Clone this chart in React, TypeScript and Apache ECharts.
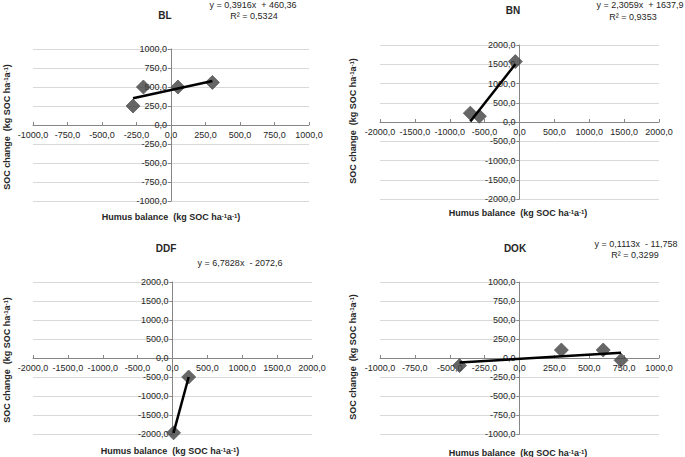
import React, { useEffect, useRef } from "react";
import * as echarts from "echarts";

// ---- Data ----
const blX = [-275, -200, 50, 300];
const blY = [250, 500, 500, 560];
const blTrendX = [-275, 300];
const blTrendY = [352.7, 577.8];

const bnX = [-705, -575, -60];
const bnY = [230, 150, 1570];
const bnTrendX = [-705, -60];
const bnTrendY = [12.2, 1499.5];

const ddfX = [15, 232];
const ddfY = [-1970, -500];
const ddfTrendX = [15, 232];
const ddfTrendY = [-1970.9, -499];

const dokX = [-430, 300, 600, 728];
const dokY = [-100, 105, 105, -30];
const dokTrendX = [-430, 728];
const dokTrendY = [-59.6, 69.3];

const panelTitles = ["BL", "BN", "DDF", "DOK"];
const equations = [
  ["y = 0,3916x  + 460,36", "R² = 0,5324"],
  ["y = 2,3059x  + 1637,9", "R² = 0,9353"],
  ["y = 6,7828x  - 2072,6"],
  ["y = 0,1113x  - 11,758", "R² = 0,3299"],
];
const axisRanges = [1000, 2000, 2000, 1000];
const axisSteps = [250, 500, 500, 250];

const FONT = "'Liberation Sans', Arial, sans-serif";
const TXT = "#262626";

const fmt = (v: number) => v.toFixed(1).replace(".", ",");
const pairs = (xs: number[], ys: number[]) => xs.map((x, i) => [x, ys[i]]);

const grids = [
  { left: 33, width: 276, top: 49, height: 152 },
  { left: 380, width: 279, top: 45, height: 154 },
  { left: 33, width: 279, top: 282, height: 152 },
  { left: 380, width: 279, top: 282, height: 152 },
];

const richTitle = {
  b: { fontSize: 9, fontWeight: "bold", fontFamily: FONT, fill: TXT, color: TXT },
  s: { fontSize: 6, fontWeight: "bold", fontFamily: FONT, fill: TXT, color: TXT, verticalAlign: "top" },
};

function textEl(text: string, x: number, y: number, opts: any = {}) {
  return {
    type: "text",
    x,
    y,
    rotation: opts.rotation || 0,
    style: {
      text,
      fill: TXT,
      font: opts.font || `9px ${FONT}`,
      align: "center",
      verticalAlign: "middle",
      rich: opts.rich,
    },
  };
}

export default function App() {
  const ref = useRef<HTMLDivElement>(null);
  useEffect(() => {
    if (!ref.current) return;
    const chart = echarts.init(ref.current, undefined, { renderer: "svg" });

    const scatterData = [pairs(blX, blY), pairs(bnX, bnY), pairs(ddfX, ddfY), pairs(dokX, dokY)];
    const trendData = [
      pairs(blTrendX, blTrendY),
      pairs(bnTrendX, bnTrendY),
      pairs(ddfTrendX, ddfTrendY),
      pairs(dokTrendX, dokTrendY),
    ];

    // Symmetric ranges: zero sits at the centre of each plot, so the axis lines
    // are shifted inward by half the plot size to cross at the origin.
    const xAxis = grids.map((g, i) => ({
      type: "value",
      gridIndex: i,
      position: "bottom",
      offset: -g.height / 2,
      min: -axisRanges[i],
      max: axisRanges[i],
      interval: axisSteps[i],
      axisLine: { show: true, onZero: false, lineStyle: { color: "#868686", width: 1 } },
      axisTick: { show: true, inside: true, length: 3, lineStyle: { color: "#868686" } },
      splitLine: { show: false },
      axisLabel: { formatter: fmt, fontSize: 9, fontFamily: FONT, color: TXT, margin: 5 },
      z: 5,
    }));
    const yAxis = grids.map((g, i) => ({
      type: "value",
      gridIndex: i,
      position: "left",
      offset: -g.width / 2,
      min: -axisRanges[i],
      max: axisRanges[i],
      interval: axisSteps[i],
      axisLine: { show: true, onZero: false, lineStyle: { color: "#868686", width: 1 } },
      axisTick: { show: true, inside: false, length: 3, lineStyle: { color: "#868686" } },
      splitLine: { show: true, lineStyle: { color: "#d9d9d9", width: 1 } },
      axisLabel: { formatter: fmt, fontSize: 9, fontFamily: FONT, color: TXT, margin: 4 },
      z: 5,
    }));

    const series: any[] = [];
    grids.forEach((_, i) => {
      series.push({
        type: "scatter",
        xAxisIndex: i,
        yAxisIndex: i,
        data: scatterData[i],
        symbol: "diamond",
        symbolSize: 14,
        itemStyle: { color: "#404040", borderColor: "#5a5a5a", borderWidth: 1 },
        z: 6,
      });
      series.push({
        type: "line",
        xAxisIndex: i,
        yAxisIndex: i,
        data: trendData[i],
        showSymbol: false,
        symbol: "none",
        lineStyle: { color: "#000", width: 2.5 },
        z: 7,
      });
    });

    const xTitle = "{b|Humus balance  (kg SOC ha}{s|-1}{b|a}{s|-1}{b|)}";
    const yTitle = "{b|SOC change  (kg SOC ha}{s|-1}{b|a}{s|-1}{b|)}";

    const graphic: any[] = [
      // panel titles
      textEl(panelTitles[0], 165, 15, { font: `bold 10px ${FONT}` }),
      textEl(panelTitles[1], 513, 10, { font: `bold 10px ${FONT}` }),
      textEl(panelTitles[2], 166, 248, { font: `bold 10px ${FONT}` }),
      textEl(panelTitles[3], 515, 248, { font: `bold 10px ${FONT}` }),
      // equations
      textEl(equations[0][0], 253, 5),
      textEl(equations[0][1], 254, 16),
      textEl(equations[1][0], 640, 5),
      textEl(equations[1][1], 633, 17),
      textEl(equations[2][0], 240, 263),
      textEl(equations[3][0], 636, 244),
      textEl(equations[3][1], 635, 255),
      // x titles
      textEl(xTitle, 171, 217, { rich: richTitle }),
      textEl(xTitle, 518, 213, { rich: richTitle }),
      textEl(xTitle, 170, 451, { rich: richTitle }),
      textEl(xTitle, 518, 453, { rich: richTitle }),
      // y titles
      textEl(yTitle, 7, 127, { rich: richTitle, rotation: Math.PI / 2 }),
      textEl(yTitle, 353, 121, { rich: richTitle, rotation: Math.PI / 2 }),
      textEl(yTitle, 7, 360, { rich: richTitle, rotation: Math.PI / 2 }),
      textEl(yTitle, 353, 357, { rich: richTitle, rotation: Math.PI / 2 }),
    ];

    chart.setOption({
      animation: false,
      backgroundColor: "#ffffff",
      grid: grids.map((g) => ({ ...g, containLabel: false })),
      xAxis,
      yAxis,
      series,
      graphic,
    });

    return () => chart.dispose();
  }, []);

  return (
    <div
      ref={ref}
      style={{ position: "fixed", left: 0, top: 0, width: 685, height: 457, background: "#fff" }}
    />
  );
}
